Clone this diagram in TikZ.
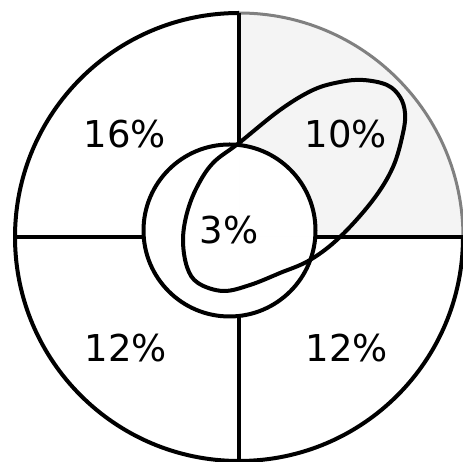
\documentclass[tikz,border=0pt]{standalone}
\usepackage{fontspec}
\setmainfont{DejaVu Sans}
\begin{document}
\begin{tikzpicture}[x=1pt,y=1pt,
  thick line/.style={line width=4pt},
  pct/.style={font=\fontsize{37}{42}\selectfont, inner sep=0pt}]
\useasboundingbox (0,0) rectangle (463,462);
% key points
\coordinate (O) at (239,225);
\coordinate (I) at (229.5,231.5);
\coordinate (T) at (239,449);
\coordinate (IT) at (239,317);
\coordinate (IB) at (239,146);
\coordinate (B) at (239,1);
\coordinate (R) at (463,225);
\coordinate (IR) at (315.25,225);
\coordinate (L) at (15,225);
\coordinate (IL) at (143.75,225);
% shaded upper-right quadrant (outside the inner circle)
\begin{scope}
  \clip (O) -- (T) arc[start angle=90, end angle=0, radius=224] -- cycle;
  \fill[gray!9, even odd rule] (O) -- (T) arc[start angle=90, end angle=0, radius=224] -- cycle
    (I) circle[radius=86];
\end{scope}
% outer circle
\draw[line width=3pt, black!50] (T) arc[start angle=90, end angle=0, radius=224];
\draw[thick line] (T) arc[start angle=90, end angle=360, radius=224];
% cross lines
\draw[thick line] (T) -- (IT);
\draw[thick line] (IB) -- (B);
\draw[thick line] (L) -- (IL);
\draw[thick line] (IR) -- (R);
% inner circle
\draw[thick line] (I) circle[radius=86];
% ellipse-like loop
\draw[thick line] plot[smooth cycle, tension=0.6] coordinates {
 (239,319) (280,352) (313,372) (340,380) (363,382) (387,377) (400,365) (405,349)
 (403,329) (393,295) (373,262) (340,225) (310,202) (280,189) (250,177) (223,171)
 (198,179) (187,195) (183,222) (187,249) (197,275) (213,299)};
% labels
\node[pct] (p16) at (125,328) {16\%};
\node[pct] (p10) at (346,328) {10\%};
\node[pct] (p3) at (229,232) {3\%};
\node[pct] (p12a) at (126,114) {12\%};
\node[pct] (p12b) at (347,114) {12\%};
\end{tikzpicture}
\end{document}
